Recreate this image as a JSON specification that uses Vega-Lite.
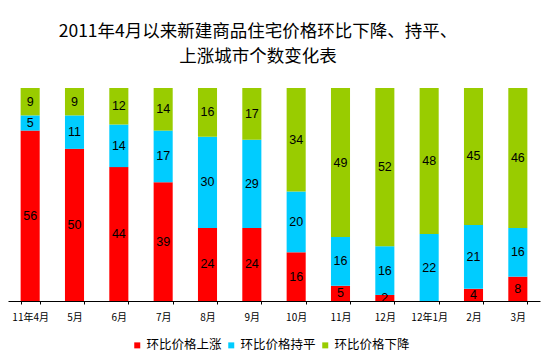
{
  "$schema": "https://vega.github.io/schema/vega-lite/v6.json",
  "autosize": "none",
  "width": 532,
  "height": 213,
  "padding": {"left": 8, "top": 88, "right": 14, "bottom": 61},
  "background": "white",
  "config": {
    "view": {"stroke": null},
    "font": "Noto Sans CJK SC"
  },
  "title": {
    "text": ["2011年4月以来新建商品住宅价格环比下降、持平、", "上涨城市个数变化表"],
    "font": "Noto Sans CJK SC",
    "fontSize": 17.5,
    "fontWeight": "normal",
    "color": "#000000",
    "lineHeight": 25,
    "anchor": "middle",
    "frame": "group",
    "dx": -16,
    "offset": 23
  },
  "data": {
    "values": [
      {"month": "11年4月", "type": "环比价格上涨", "o": 1, "v": 56},
      {"month": "11年4月", "type": "环比价格持平", "o": 2, "v": 5},
      {"month": "11年4月", "type": "环比价格下降", "o": 3, "v": 9},
      {"month": "5月", "type": "环比价格上涨", "o": 1, "v": 50},
      {"month": "5月", "type": "环比价格持平", "o": 2, "v": 11},
      {"month": "5月", "type": "环比价格下降", "o": 3, "v": 9},
      {"month": "6月", "type": "环比价格上涨", "o": 1, "v": 44},
      {"month": "6月", "type": "环比价格持平", "o": 2, "v": 14},
      {"month": "6月", "type": "环比价格下降", "o": 3, "v": 12},
      {"month": "7月", "type": "环比价格上涨", "o": 1, "v": 39},
      {"month": "7月", "type": "环比价格持平", "o": 2, "v": 17},
      {"month": "7月", "type": "环比价格下降", "o": 3, "v": 14},
      {"month": "8月", "type": "环比价格上涨", "o": 1, "v": 24},
      {"month": "8月", "type": "环比价格持平", "o": 2, "v": 30},
      {"month": "8月", "type": "环比价格下降", "o": 3, "v": 16},
      {"month": "9月", "type": "环比价格上涨", "o": 1, "v": 24},
      {"month": "9月", "type": "环比价格持平", "o": 2, "v": 29},
      {"month": "9月", "type": "环比价格下降", "o": 3, "v": 17},
      {"month": "10月", "type": "环比价格上涨", "o": 1, "v": 16},
      {"month": "10月", "type": "环比价格持平", "o": 2, "v": 20},
      {"month": "10月", "type": "环比价格下降", "o": 3, "v": 34},
      {"month": "11月", "type": "环比价格上涨", "o": 1, "v": 5},
      {"month": "11月", "type": "环比价格持平", "o": 2, "v": 16},
      {"month": "11月", "type": "环比价格下降", "o": 3, "v": 49},
      {"month": "12月", "type": "环比价格上涨", "o": 1, "v": 2},
      {"month": "12月", "type": "环比价格持平", "o": 2, "v": 16},
      {"month": "12月", "type": "环比价格下降", "o": 3, "v": 52},
      {"month": "12年1月", "type": "环比价格上涨", "o": 1, "v": 0},
      {"month": "12年1月", "type": "环比价格持平", "o": 2, "v": 22},
      {"month": "12年1月", "type": "环比价格下降", "o": 3, "v": 48},
      {"month": "2月", "type": "环比价格上涨", "o": 1, "v": 4},
      {"month": "2月", "type": "环比价格持平", "o": 2, "v": 21},
      {"month": "2月", "type": "环比价格下降", "o": 3, "v": 45},
      {"month": "3月", "type": "环比价格上涨", "o": 1, "v": 8},
      {"month": "3月", "type": "环比价格持平", "o": 2, "v": 16},
      {"month": "3月", "type": "环比价格下降", "o": 3, "v": 46}
    ]
  },
  "transform": [
    {"stack": "v", "groupby": ["month"], "sort": [{"field": "o", "order": "ascending"}], "as": ["y0", "y1"]}
  ],
  "encoding": {
    "x": {
      "field": "month",
      "type": "nominal",
      "sort": null,
      "scale": {"paddingInner": 0.57, "paddingOuter": 0.285},
      "axis": {
        "title": null,
        "labelAngle": 0,
        "labelFont": "Noto Sans CJK SC",
        "labelFontSize": 10,
        "labelColor": "#000000",
        "labelPadding": 8,
        "domainColor": "#000000",
        "tickColor": "#000000",
        "tickSize": 3,
        "tickBand": "extent",
        "grid": false
      }
    }
  },
  "layer": [
    {
      "mark": {"type": "bar"},
      "encoding": {
        "y": {"field": "y0", "type": "quantitative", "scale": {"domain": [0, 70], "nice": false, "zero": true}, "axis": null},
        "y2": {"field": "y1"},
        "color": {
          "field": "type",
          "type": "nominal",
          "sort": ["环比价格上涨", "环比价格持平", "环比价格下降"],
          "scale": {"domain": ["环比价格上涨", "环比价格持平", "环比价格下降"], "range": ["#FF0000", "#00CCFF", "#99CC00"]},
          "legend": {
            "title": null,
            "orient": "none",
            "direction": "horizontal",
            "legendX": 123,
            "legendY": 251,
            "padding": 0,
            "symbolType": "square",
            "symbolSize": 36,
            "symbolStrokeWidth": 0,
            "labelFont": "Noto Sans CJK SC",
            "labelFontSize": 12.5,
            "labelColor": "#000000",
            "labelOffset": 3,
            "columnPadding": 3
          }
        }
      }
    },
    {
      "transform": [
        {"filter": "datum.v > 0"},
        {"fold": ["y0", "y1"], "as": ["k", "pos"]}
      ],
      "mark": {"type": "text", "font": "Liberation Sans", "fontSize": 12.5, "color": "#000000", "baseline": "middle", "align": "center"},
      "encoding": {
        "y": {"aggregate": "mean", "field": "pos", "type": "quantitative"},
        "detail": {"field": "type"},
        "text": {"field": "v", "type": "quantitative"}
      }
    }
  ]
}
